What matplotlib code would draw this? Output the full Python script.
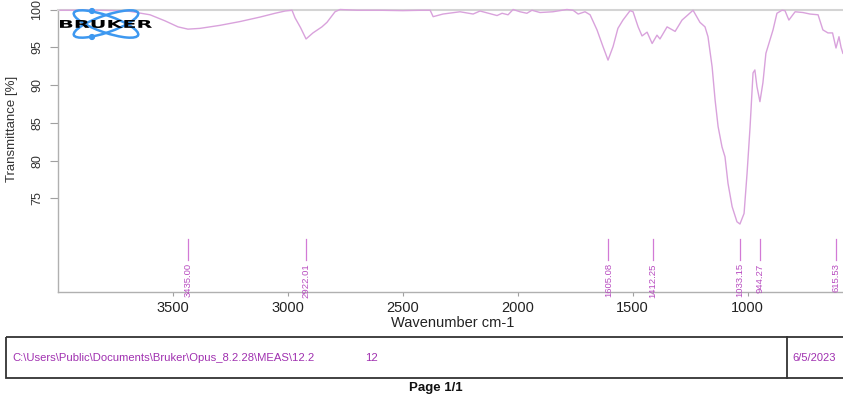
import numpy as np
import matplotlib.pyplot as plt
from matplotlib.patches import Ellipse, Rectangle, Circle, PathPatch
from matplotlib.textpath import TextPath
from matplotlib.font_manager import FontProperties
from matplotlib.transforms import Affine2D

# spectrum (wavenumber cm-1, transmittance %)
wavenumber = [3991, 3900, 3817, 3750, 3687, 3600, 3535, 3478, 3435, 3383, 3296, 3209,
              3121, 3056, 3012, 2982, 2969, 2945, 2921, 2891, 2852, 2830, 2795, 2773,
              2700, 2600, 2500, 2420, 2381, 2368, 2325, 2251, 2194, 2164, 2090, 2068,
              2042, 2020, 1990, 1960, 1938, 1903, 1847, 1786, 1759, 1737, 1707, 1685,
              1655, 1629, 1607, 1585, 1564, 1542, 1511, 1498, 1476, 1459, 1437, 1415,
              1394, 1381, 1350, 1315, 1285, 1259, 1237, 1207, 1185, 1172, 1154, 1141,
              1128, 1111, 1098, 1085, 1067, 1046, 1033, 1015, 1002, 989, 976, 968,
              959, 946, 933, 920, 902, 889, 872, 850, 837, 820, 793, 759, 728, 693,
              672, 650, 630, 615, 602, 593, 585]
transmittance = [99.9, 99.9, 99.9, 99.85, 99.75, 99.3, 98.5, 97.7, 97.4, 97.5, 97.9, 98.4,
                 99.0, 99.5, 99.8, 99.9, 98.9, 97.6, 96.1, 96.9, 97.7, 98.3, 99.7, 100.0,
                 99.9, 99.9, 99.85, 99.9, 99.9, 99.05, 99.4, 99.7, 99.4, 99.8, 99.2, 99.5,
                 99.3, 100.0, 99.7, 99.5, 99.9, 99.6, 99.7, 100.0, 99.9, 99.4, 99.7, 99.3,
                 97.3, 95.1, 93.3, 95.1, 97.5, 98.6, 99.85, 99.7, 97.7, 96.5, 97.0, 95.5,
                 96.6, 96.1, 97.7, 97.1, 98.6, 99.3, 99.9, 98.3, 97.7, 96.4, 92.4, 88.0,
                 84.5, 81.8, 80.5, 77.0, 73.9, 71.9, 71.6, 73.0, 78.3, 84.4, 91.6, 92.0,
                 89.8, 87.8, 90.3, 94.2, 96.0, 97.3, 99.5, 99.9, 99.85, 98.6, 99.7, 99.6,
                 99.4, 99.3, 97.3, 96.9, 96.9, 94.9, 96.4, 95.0, 94.2]

peaks = [3435.00, 2922.01, 1605.08, 1412.25, 1033.15, 944.27, 615.53]
yticks = [75, 80, 85, 90, 95, 100]
xticks = [3500, 3000, 2500, 2000, 1500, 1000]

spec_col = '#d9a2dc'
peak_col = '#b84cc0'
text_col = '#a030b0'

W, H = 843, 397
fig = plt.figure(figsize=(W / 100, H / 100), dpi=100)

# axes placed in pixel terms: 4000 cm-1 at x=58, 400 at x=885 (off the page)
ax = fig.add_axes([58.1 / W, (H - 292) / H, (885.4 - 58.1) / W, 282.5 / H])
ax.plot(wavenumber, transmittance, color=spec_col, lw=1.0, clip_on=False, zorder=3,
        solid_joinstyle='round')
ax.set_xlim(4000, 400)
ax.set_ylim(62.6, 100)

ax.spines['right'].set_visible(False)
for sp in ['left', 'bottom']:
    ax.spines[sp].set_color('#b0b0b0')
    ax.spines[sp].set_linewidth(1.0)
ax.spines['top'].set_color('#d4d4d4')
ax.spines['top'].set_linewidth(1.5)

ax.set_yticks(yticks)
ax.set_xticks(xticks)
ax.tick_params(axis='y', length=5.8, color='#a0a0a0', pad=5, labelsize=9,
               labelcolor='#333333', labelrotation=90)
ax.tick_params(axis='x', length=3, color='#a0a0a0', pad=3.5, labelsize=10.5,
               labelcolor='#222222')
for lab in ax.get_yticklabels():
    lab.set_va('center')
    lab.set_family('Liberation Sans')
for lab in ax.get_xticklabels():
    lab.set_family('Liberation Sans')
ax.set_xlabel('Wavenumber cm-1', fontsize=10.5, family='Liberation Sans',
              color='#222222', labelpad=2)
ax.xaxis.set_label_coords((453 - 58.1) / (885.4 - 58.1), -0.085)

# peak markers
for p in peaks:
    ax.plot([p, p], [69.6, 66.8], color='#d27ad6', lw=0.9)
    ax.text(p, 66.4, f'{p:.2f}', rotation=90, ha='center', va='top', fontsize=6.8,
            color=peak_col, family='Liberation Sans')

fig.text(12 / W, 1 - 129 / H, 'Transmittance [%]', rotation=90, ha='center', va='center',
         fontsize=9.5, color='#333333', family='Liberation Sans')

# overlay in pixel coordinates for logo and footer
ov = fig.add_axes([0, 0, 1, 1])
ov.set_xlim(0, W)
ov.set_ylim(H, 0)
ov.axis('off')
ov.patch.set_alpha(0)

blue = '#3d98f0'
ov.add_patch(Ellipse((106, 24), 68, 17, angle=19, fill=False, ec=blue, lw=1.8))
ov.add_patch(Ellipse((106, 24), 68, 17, angle=-19, fill=False, ec=blue, lw=1.8))
ov.add_patch(Circle((92, 11), 2.4, color=blue))
ov.add_patch(Circle((92, 37), 2.4, color=blue))

# wide-set logo lettering, stretched horizontally
tp = TextPath((0, 0), 'BRUKER', size=10, prop=FontProperties(family='DejaVu Sans', weight='bold'))
bb = tp.get_extents()
sx = 92 / bb.width
sy = 8.0 / bb.height
tr = Affine2D().translate(-bb.x0, -bb.y0).scale(sx, -sy).translate(60, 28)
ov.add_patch(PathPatch(tr.transform_path(tp), fc='black', ec='none'))

ov.add_patch(Rectangle((6, 337), 900, 41, fill=False, ec='#333333', lw=1.3))
ov.plot([787, 787], [337, 378], color='#333333', lw=1.3)
ov.text(12, 358, 'C:\\Users\\Public\\Documents\\Bruker\\Opus_8.2.28\\MEAS\\12.2',
        ha='left', va='center', fontsize=8.1, color=text_col, family='Liberation Sans')
ov.text(365, 358, '12', ha='left', va='center', fontsize=8.1, color=text_col,
        family='Liberation Sans')
ov.text(792, 358, '6/5/2023', ha='left', va='center', fontsize=8.0, color=text_col,
        family='Liberation Sans')
ov.text(436, 388, 'Page 1/1', ha='center', va='center', fontsize=9.5, fontweight='bold',
        color='#111111', family='Liberation Sans')

fig.savefig('out.png', dpi=100)
